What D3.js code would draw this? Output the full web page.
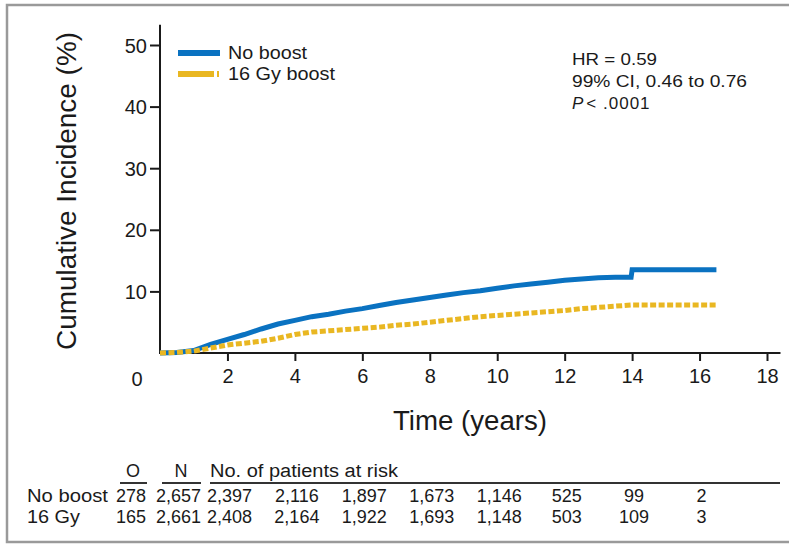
<!DOCTYPE html>
<html>
<head>
<meta charset="utf-8">
<script src="https://cdn.jsdelivr.net/npm/d3@7"></script>
<style>
  html, body { margin: 0; padding: 0; background: #fff; }
  svg { display: block; font-family: "Liberation Sans", Arial, Helvetica, sans-serif; }
</style>
</head>
<body>
<svg id="chart" width="789" height="544"></svg>
<script>
// ---------- DATA ----------
const noBoostTime  = [0, 0.5, 1.0, 1.5, 2.0, 2.5, 3.0, 3.5, 4.0, 4.5, 5.0, 5.5, 6.0, 6.5, 7.0, 7.5, 8.0, 8.5, 9.0, 9.5, 10.0, 10.5, 11.0, 11.5, 12.0, 12.5, 13.0, 13.5, 13.97, 14.0, 16.5];
const noBoostValue = [0, 0.1, 0.4, 1.4, 2.2, 3.0, 3.9, 4.7, 5.3, 5.9, 6.3, 6.8, 7.2, 7.7, 8.2, 8.6, 9.0, 9.4, 9.8, 10.1, 10.5, 10.9, 11.2, 11.5, 11.8, 12.0, 12.2, 12.3, 12.3, 13.5, 13.5];
const boostTime    = [0, 0.5, 1.0, 1.5, 2.0, 2.5, 3.0, 3.5, 4.0, 4.5, 5.0, 5.5, 6.0, 6.5, 7.0, 7.5, 8.0, 8.5, 9.0, 9.5, 10.0, 10.5, 11.0, 11.5, 12.0, 12.5, 13.0, 13.5, 14.0, 16.5];
const boostValue   = [0, 0.1, 0.3, 0.8, 1.3, 1.6, 1.9, 2.4, 3.0, 3.4, 3.6, 3.8, 4.0, 4.2, 4.5, 4.7, 5.0, 5.3, 5.6, 5.9, 6.1, 6.3, 6.5, 6.7, 6.9, 7.2, 7.4, 7.6, 7.8, 7.8];

const seriesNames  = ["No boost", "16 Gy boost"];
const xTicks = [2, 4, 6, 8, 10, 12, 14, 16, 18];
const yTicks = [10, 20, 30, 40, 50];

const riskTimes      = [2, 4, 6, 8, 10, 12, 14, 16];
const riskRowLabels  = ["No boost", "16 Gy"];
const riskObserved   = ["278", "165"];
const riskN          = ["2,657", "2,661"];
const riskNoBoost    = ["2,397", "2,116", "1,897", "1,673", "1,146", "525", "99", "2"];
const riskBoost      = ["2,408", "2,164", "1,922", "1,693", "1,148", "503", "109", "3"];

const annotations = ["HR = 0.59", "99% CI, 0.46 to 0.76", "< .0001"];

// ---------- STYLE ----------
const BLUE = "#0a72c1";
const GOLD = "#e9b722";
const INK = "#1a1a1a";

const svg = d3.select("#chart");

// frame
svg.append("rect")
  .attr("x", 7).attr("y", 5).attr("width", 800).attr("height", 537)
  .attr("fill", "none").attr("stroke", "#9a9a9a").attr("stroke-width", 2.5);

const x = d3.scaleLinear().domain([0, 18]).range([160, 767]);
const y = d3.scaleLinear().domain([0, 50]).range([353, 45]);

const g = svg.append("g");

// Y axis
const yAxis = d3.axisLeft(y).tickValues(yTicks).tickSize(10).tickPadding(3).tickSizeOuter(0);
const yg = g.append("g").attr("transform", `translate(${x(0)},0)`).call(yAxis);
yg.select(".domain").remove();
yg.selectAll(".tick line").attr("stroke", INK).attr("stroke-width", 2);
yg.selectAll(".tick text").attr("font-size", 20).attr("fill", INK)
  .attr("font-family", "'Liberation Sans', Arial, sans-serif").attr("dy", "0.35em");
g.append("line")
  .attr("x1", x(0)).attr("x2", x(0)).attr("y1", y(0) + 1).attr("y2", y(53.3))
  .attr("stroke", INK).attr("stroke-width", 2);

// X axis
const xAxis = d3.axisBottom(x).tickValues(xTicks).tickSize(8).tickPadding(8).tickSizeOuter(0);
const xg = g.append("g").attr("transform", `translate(0,${y(0)})`).call(xAxis);
xg.select(".domain").remove();
xg.selectAll(".tick line").attr("stroke", INK).attr("stroke-width", 2);
xg.selectAll(".tick text").attr("font-size", 20).attr("fill", INK)
  .attr("font-family", "'Liberation Sans', Arial, sans-serif");
g.append("line")
  .attr("x1", x(0) - 1).attr("x2", x(18.4)).attr("y1", y(0)).attr("y2", y(0))
  .attr("stroke", INK).attr("stroke-width", 2);

// shared origin label
g.append("text").attr("x", 137).attr("y", 386).attr("text-anchor", "middle")
  .attr("font-size", 20).attr("fill", INK).text("0");

// axis titles
g.append("text")
  .attr("transform", `translate(76,191) rotate(-90)`)
  .attr("text-anchor", "middle").attr("font-size", 27).attr("fill", INK)
  .attr("textLength", 318).attr("lengthAdjust", "spacingAndGlyphs")
  .text("Cumulative Incidence (%)");
g.append("text")
  .attr("x", 470).attr("y", 430).attr("text-anchor", "middle")
  .attr("font-size", 27).attr("fill", INK)
  .attr("textLength", 154).attr("lengthAdjust", "spacingAndGlyphs")
  .text("Time (years)");

// curves
const line = d3.line().x(d => x(d[0])).y(d => y(d[1])).curve(d3.curveLinear);
const blueData = noBoostTime.map((t, i) => [t, noBoostValue[i]]);
const goldData = boostTime.map((t, i) => [t, boostValue[i]]);

g.append("path").datum(blueData).attr("d", line)
  .attr("fill", "none").attr("stroke", BLUE).attr("stroke-width", 5)
  .attr("stroke-linejoin", "miter");
g.append("path").datum(goldData).attr("d", line)
  .attr("fill", "none").attr("stroke", GOLD).attr("stroke-width", 5)
  .attr("stroke-dasharray", "6,2.5");

// legend
const legend = g.append("g");
legend.append("line").attr("x1", 178).attr("x2", 220).attr("y1", 53).attr("y2", 53)
  .attr("stroke", BLUE).attr("stroke-width", 6);
legend.append("line").attr("x1", 178).attr("x2", 220).attr("y1", 74).attr("y2", 74)
  .attr("stroke", GOLD).attr("stroke-width", 6).attr("stroke-dasharray", "36,3,2,10");
legend.append("text").attr("x", 228).attr("y", 59).attr("font-size", 18).attr("fill", INK)
  .attr("textLength", 79).attr("lengthAdjust", "spacingAndGlyphs").text(seriesNames[0]);
legend.append("text").attr("x", 228).attr("y", 80).attr("font-size", 18).attr("fill", INK)
  .attr("textLength", 107).attr("lengthAdjust", "spacingAndGlyphs").text(seriesNames[1]);

// annotation
const ann = g.append("g").attr("font-size", 17).attr("fill", INK);
ann.append("text").attr("x", 572).attr("y", 65)
  .attr("textLength", 85).attr("lengthAdjust", "spacingAndGlyphs").text(annotations[0]);
ann.append("text").attr("x", 572).attr("y", 87)
  .attr("textLength", 175).attr("lengthAdjust", "spacingAndGlyphs").text(annotations[1]);
const pLine = ann.append("text").attr("x", 572).attr("y", 109);
pLine.append("tspan").attr("font-style", "italic").text("P");
pLine.append("tspan").attr("dx", 3).attr("letter-spacing", 1).text(annotations[2]);

// risk table
const rt = g.append("g").attr("font-size", 18).attr("fill", INK);
rt.append("text").attr("x", 133).attr("y", 477).attr("text-anchor", "middle").text("O");
rt.append("text").attr("x", 181).attr("y", 477).attr("text-anchor", "middle").text("N");
rt.append("text").attr("x", 210).attr("y", 477)
  .attr("textLength", 188).attr("lengthAdjust", "spacingAndGlyphs").text("No. of patients at risk");
[[120, 147], [162, 201], [210, 780]].forEach(([a, b]) => {
  rt.append("line").attr("x1", a).attr("x2", b).attr("y1", 483).attr("y2", 483)
    .attr("stroke", "#333").attr("stroke-width", 2);
});
const rowY = [502, 523];
const rowLabelW = [81, 53];
const riskRows = [riskNoBoost, riskBoost];
riskRowLabels.forEach((lab, i) => {
  rt.append("text").attr("x", 27).attr("y", rowY[i])
    .attr("textLength", rowLabelW[i]).attr("lengthAdjust", "spacingAndGlyphs").text(lab);
  rt.append("text").attr("x", 146).attr("y", rowY[i]).attr("text-anchor", "end").text(riskObserved[i]);
  rt.append("text").attr("x", 201).attr("y", rowY[i]).attr("text-anchor", "end").text(riskN[i]);
  riskRows[i].forEach((v, j) => {
    rt.append("text").attr("x", x(riskTimes[j]) + 2).attr("y", rowY[i])
      .attr("text-anchor", "middle").text(v);
  });
});
</script>
</body>
</html>
